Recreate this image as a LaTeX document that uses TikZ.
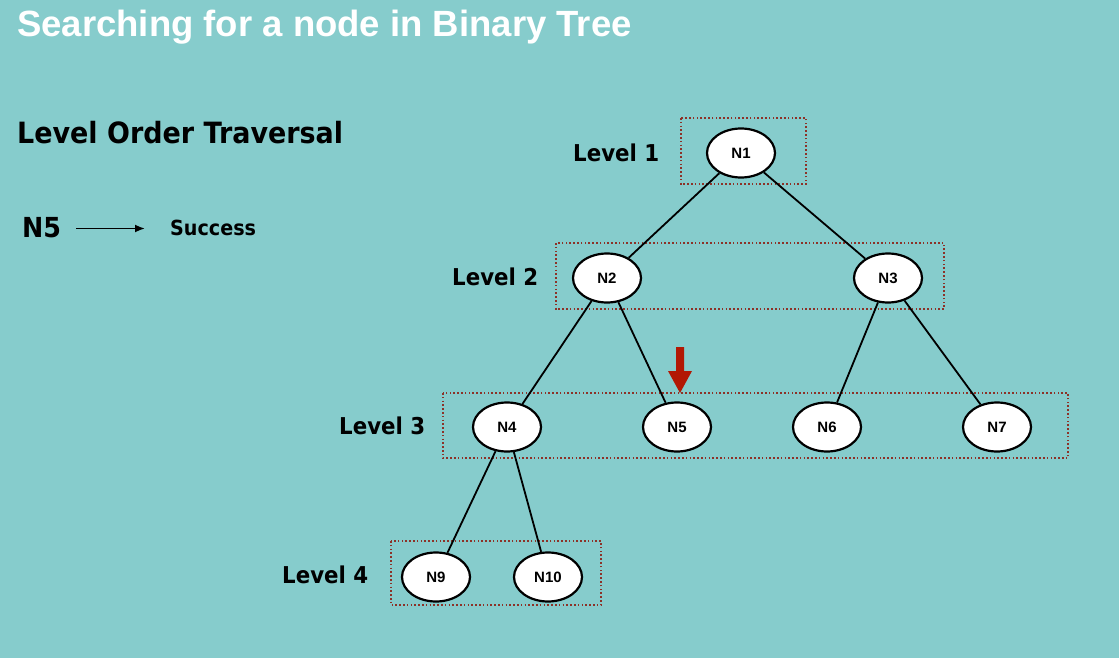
\documentclass[tikz,border=0pt]{standalone}
\usepackage{fontspec}
\usetikzlibrary{arrows.meta,shapes.geometric}
\setmainfont{Liberation Sans}
\newfontfamily\labelfont[FakeStretch=0.92]{DejaVu Sans}
\definecolor{bgteal}{RGB}{134,204,204}
\definecolor{dotred}{RGB}{140,50,40}
\definecolor{arrred}{RGB}{178,24,4}
\begin{document}
\begin{tikzpicture}[x=1pt,y=-1pt,
  tnode/.style={ellipse,draw=black,line width=2.2pt,fill=white,minimum width=68pt,minimum height=49pt,inner sep=0pt,font=\bfseries\fontsize{15}{17}\selectfont},
  lvl/.style={anchor=base west,font=\labelfont\bfseries\fontsize{23.2}{26}\selectfont,text=black,inner sep=0pt},
  lvlbox/.style={draw=dotred,line width=1.6pt,dash pattern=on 1.6pt off 2.2pt},
  edge/.style={draw=black,line width=1.8pt}]
\useasboundingbox[fill=bgteal] (0,0) rectangle (1119,658);
\node[anchor=base west,inner sep=0pt,text=white,font=\bfseries\fontsize{36.5}{40}\selectfont] (title) at (17,37) {Searching for a node in Binary Tree};
\node[lvl,font=\labelfont\bfseries\fontsize{29.3}{32}\selectfont] (lot) at (17,144) {Level Order Traversal};
\node[lvl,font=\labelfont\bfseries\fontsize{27.6}{30}\selectfont] (n5t) at (22,237) {N5};
\node[lvl,font=\labelfont\bfseries\fontsize{20.8}{24}\selectfont] (succ) at (170,235) {Success};
\coordinate (a0) at (76,228.5);
\coordinate (a1) at (145,228.5);
\draw[line width=1.8pt,-{Latex[length=10pt,width=8pt]}] (a0) -- (a1);
% boxes
\draw[lvlbox] (681,118) rectangle (806,184);
\draw[lvlbox] (556,243) rectangle (944,309);
\draw[lvlbox] (443,393) rectangle (1068,458);
\draw[lvlbox] (391,541) rectangle (601,605);
% level labels
\node[lvl] (l1) at (573,161) {Level 1};
\node[lvl] (l2) at (452,285) {Level 2};
\node[lvl] (l3) at (339,434) {Level 3};
\node[lvl] (l4) at (282,583) {Level 4};
% nodes
\node[tnode] (N1) at (741,153) {N1};
\node[tnode] (N2) at (607,278) {N2};
\node[tnode] (N3) at (888,278) {N3};
\node[tnode] (N4) at (507,427) {N4};
\node[tnode] (N5) at (677,427) {N5};
\node[tnode] (N6) at (827,427) {N6};
\node[tnode] (N7) at (997,427) {N7};
\node[tnode] (N9) at (436,577) {N9};
\node[tnode] (N10) at (548,577) {N10};
% edges
\draw[edge] (N1) -- (N2);
\draw[edge] (N1) -- (N3);
\draw[edge] (N2) -- (N4);
\draw[edge] (N2) -- (N5);
\draw[edge] (N3) -- (N6);
\draw[edge] (N3) -- (N7);
\draw[edge] (N4) -- (N9);
\draw[edge] (N4) -- (N10);
% red arrow
\fill[arrred] (676,347) -- (684,347) -- (684,371) -- (692,371) -- (680,393) -- (668,371) -- (676,371) -- cycle;
\end{tikzpicture}
\end{document}
